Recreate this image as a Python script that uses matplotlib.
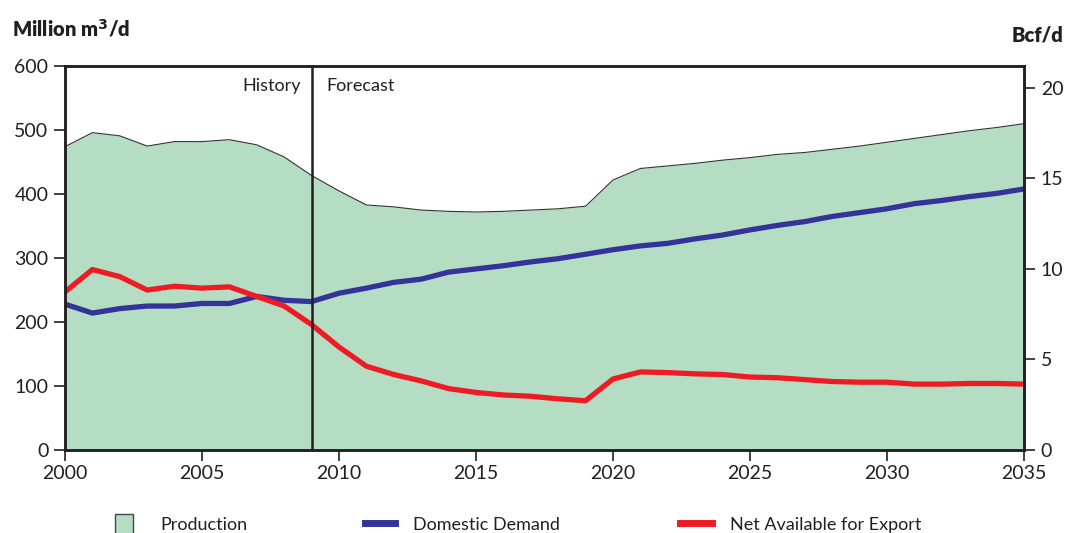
import numpy as np
import matplotlib
matplotlib.use("Agg")
import matplotlib.pyplot as plt
from matplotlib.patches import Rectangle
from matplotlib.lines import Line2D

plt.rcParams["font.family"] = ["Lato", "DejaVu Sans"]

years = list(range(2000, 2036))
production = [474, 496, 491, 475, 482, 482, 485, 477, 458, 429,
              405, 383, 380, 375, 373, 372, 373, 375, 377, 381,
              422, 440, 444, 448, 453, 457, 462, 465, 470, 475,
              481, 487, 493, 499, 504, 510]
demand = [228, 214, 221, 225, 225, 229, 229, 240, 234, 232,
          245, 253, 262, 267, 278, 283, 288, 294, 299, 306,
          313, 319, 323, 330, 336, 344, 351, 357, 365, 371,
          377, 385, 390, 396, 401, 408]
export = [247, 282, 271, 250, 256, 253, 255, 240, 225, 196,
          161, 131, 118, 108, 96, 90, 86, 84, 80, 77,
          111, 122, 121, 119, 118, 114, 113, 110, 107, 106,
          106, 103, 103, 104, 104, 103]
M3_PER_BCF = 28.317  # million m3 per Bcf

GREEN = "#b4ddc3"
BLUE = "#35339a"
RED = "#ed1c24"
DARK = "#231f20"

W, H = 1070, 533
fig = plt.figure(figsize=(W / 100, H / 100), dpi=100)
ax = fig.add_axes([0.0607, 0.1557, 0.8963, 0.7203])

ax.fill_between(years, production, 0, color=GREEN, lw=0)
ax.plot(years, production, color="#333333", lw=0.8)
ax.plot(years, demand, color=BLUE, lw=3.8, solid_joinstyle="round")
ax.plot(years, export, color=RED, lw=3.8, solid_joinstyle="round")
ax.axvline(2009, color=DARK, lw=1.8)

ax.set_xlim(2000, 2035)
ax.set_ylim(0, 600)
ax.set_xticks(range(2000, 2036, 5))
ax.set_yticks(range(0, 601, 100))
for s in ax.spines.values():
    s.set_linewidth(1.8)
    s.set_color(DARK)
ax.tick_params(axis="both", labelsize=14, colors=DARK, length=8, width=1.2, pad=3)
ax.tick_params(axis="y", pad=4)

ax2 = ax.twinx()
ax2.set_ylim(0, 600 / M3_PER_BCF)
ax2.set_yticks([0, 5, 10, 15, 20])
ax2.tick_params(axis="y", labelsize=14, colors=DARK, length=8, width=1.2, pad=4)
for s in ax2.spines.values():
    s.set_linewidth(1.8)
    s.set_color(DARK)

ax.text(2008.6, 569, "History", ha="right", va="center", fontsize=13, color=DARK)
ax.text(2009.55, 569, "Forecast", ha="left", va="center", fontsize=13, color=DARK)

fig.text(12 / W, 1 - 28 / H, "Million m$^\\mathbf{3}$/d", fontsize=14.5, fontweight="heavy",
         color=DARK, ha="left", va="center")
fig.text(1063 / W, 1 - 35 / H, "Bcf/d", fontsize=14.5, fontweight="heavy",
         color=DARK, ha="right", va="center")

# legend drawn by hand (patch is narrower than the line keys)
ly = 1 - 523 / H
fig.add_artist(Rectangle((115 / W, -0.01), 18 / W, 0.01 + 19 / H, transform=fig.transFigure,
                         facecolor=GREEN, edgecolor="#444444", lw=1))
fig.add_artist(Line2D([365 / W, 395 / W], [ly, ly], transform=fig.transFigure,
                      color=BLUE, lw=5))
fig.add_artist(Line2D([680 / W, 712 / W], [ly, ly], transform=fig.transFigure,
                      color=RED, lw=5))
for x, lab in [(160, "Production"), (413, "Domestic Demand"), (730, "Net Available for Export")]:
    fig.text(x / W, 1 - 525 / H, lab, fontsize=13, color=DARK, ha="left", va="center")

fig.savefig("out.png", dpi=100)
